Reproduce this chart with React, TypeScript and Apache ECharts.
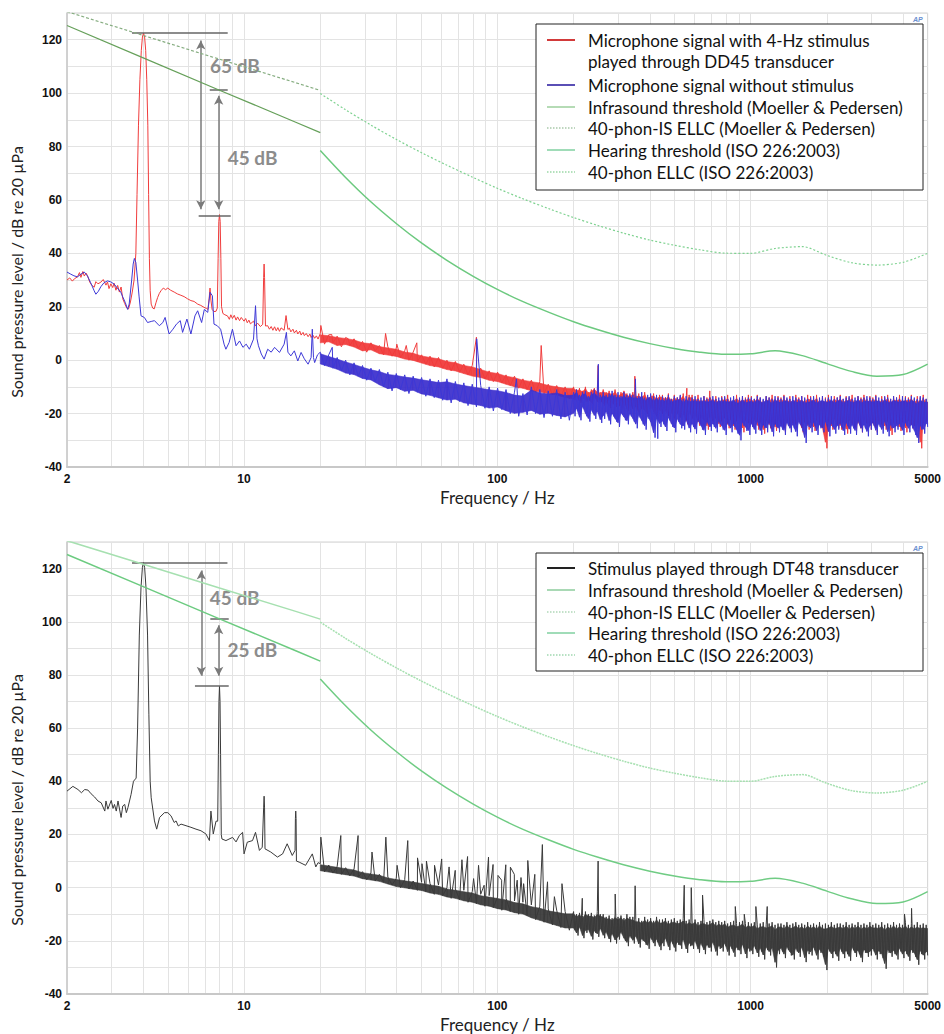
import React, { useEffect, useRef } from "react";
import * as echarts from "echarts";

type Pt = [number, number];

// ---------- axes ----------
const X_MIN = 2;
const X_MAX = 5000;
const Y_MIN = -40;
const Y_MAX = 130;
const gridFreqs = [3, 4, 5, 6, 7, 8, 9, 10, 20, 30, 40, 50, 60, 70, 80, 90, 100, 200, 300, 400, 500, 600, 700, 800, 900, 1000, 2000, 3000, 4000];

// ---------- thresholds ----------
const infraFreqs = [2, 4, 8, 16, 20];
const infraThreshold = [125.3, 113.2, 101.1, 89.1, 85.2];
const infra40phon = [130.5, 121.6, 112.7, 103.9, 101.0];
const isoFreqs = [20, 25, 31.5, 40, 50, 63, 80, 100, 125, 160, 200, 250, 315, 400, 500, 630, 800, 1000, 1250, 1600, 2000, 2500, 3150, 4000, 5000];
const isoHearing = [78.5, 68.7, 59.5, 51.1, 44.0, 37.5, 31.5, 26.5, 22.1, 17.9, 14.4, 11.4, 8.6, 6.2, 4.4, 3.0, 2.2, 2.4, 3.5, 1.7, -1.3, -4.2, -6.0, -5.4, -1.5];
const iso40phon = [99.85, 93.94, 88.17, 82.63, 77.78, 73.08, 68.48, 64.37, 60.59, 56.7, 53.41, 50.4, 47.58, 44.98, 43.05, 41.34, 40.06, 40.01, 41.82, 42.51, 39.23, 36.51, 35.61, 36.65, 40.01];

// ---------- spectra: 2–20 Hz explicit points [Hz, dB] ----------
const redLow: Pt[] = [
  [2, 30], [2.05, 30.8], [2.1, 29.6], [2.14, 30.5], [2.2, 31.2], [2.24, 32.8], [2.27, 31], [2.31, 33.2], [2.34, 31.5], [2.38, 32.6],
  [2.41, 31.6], [2.46, 29.2], [2.5, 28.2], [2.56, 27.3], [2.6, 29.4], [2.65, 28.6], [2.72, 29.2], [2.78, 30.2], [2.85, 28.1], [2.89, 29.3],
  [2.93, 26.8], [2.98, 28.6], [3.03, 27.2], [3.07, 28.8], [3.12, 26.2], [3.17, 28], [3.22, 25.5], [3.27, 27.4], [3.32, 23], [3.38, 21.2],
  [3.44, 19.6], [3.5, 19.2], [3.56, 21.8], [3.62, 25.5], [3.68, 30], [3.74, 40], [3.78, 62], [3.83, 88], [3.88, 105], [3.93, 116],
  [3.97, 121], [4.01, 122.5], [4.05, 121], [4.09, 116], [4.13, 105], [4.17, 88], [4.2, 62], [4.23, 38], [4.26, 26], [4.3, 21],
  [4.36, 19.5], [4.42, 19.2], [4.49, 21.5], [4.56, 23.5], [4.63, 25], [4.7, 26], [4.8, 27], [4.9, 26.4], [5.0, 27], [5.13, 26.2],
  [5.3, 25.5], [5.46, 24.8], [5.63, 24.3], [5.8, 23.8], [5.98, 23], [6.17, 22.3], [6.35, 22], [6.56, 21], [6.75, 20.5], [6.95, 19.8],
  [7.1, 19.4], [7.2, 19], [7.28, 23], [7.34, 27], [7.4, 22.5], [7.48, 19], [7.61, 18.2], [7.75, 18.3], [7.84, 19.5], [7.9, 38],
  [7.95, 52], [8.0, 54.5], [8.05, 52], [8.1, 38], [8.15, 20], [8.25, 17.5], [8.4, 17], [8.6, 16.6], [8.75, 15.3], [8.87, 17],
  [9.0, 15.6], [9.15, 16.8], [9.3, 15], [9.43, 16.2], [9.6, 14.8], [9.75, 16], [10.0, 14.6], [10.15, 15.6], [10.3, 14], [10.45, 15],
  [10.6, 13.6], [10.9, 14.6], [11.1, 12.8], [11.3, 13.9], [11.6, 12.6], [11.85, 13.4], [11.95, 31], [12.0, 36], [12.05, 31], [12.15, 12.8],
  [12.4, 12.9], [12.6, 11.6], [12.8, 12.6], [13.0, 11.2], [13.2, 12.5], [13.4, 11], [13.6, 12.2], [13.8, 10.8], [14.0, 12.1], [14.4, 11.2],
  [14.65, 16.7], [14.9, 11.5], [15.1, 12], [15.3, 10.6], [15.6, 11.6], [15.8, 10.2], [16.1, 11.2], [16.3, 9.8], [16.6, 10.9], [16.8, 9.4],
  [17.1, 10.4], [17.3, 9.2], [17.6, 10], [17.9, 8.8], [18.2, 9.8], [18.4, 8.5], [18.7, 9.4], [19.0, 8.2], [19.3, 9.1], [19.6, 7.9],
];

const blueLow: Pt[] = [
  [2, 33], [2.07, 32.2], [2.13, 31.6], [2.2, 31.2], [2.27, 32.2], [2.34, 33], [2.41, 31.5], [2.48, 29], [2.56, 26], [2.6, 24.7],
  [2.66, 25.8], [2.72, 27.5], [2.8, 29], [2.89, 29.7], [2.98, 29.3], [3.07, 28.5], [3.16, 27], [3.26, 25.5], [3.31, 24], [3.4, 21.5],
  [3.47, 19], [3.52, 21], [3.6, 30], [3.65, 36], [3.69, 38.1], [3.74, 36.6], [3.8, 30], [3.85, 24], [3.92, 16.6], [4.04, 16],
  [4.16, 14.1], [4.3, 14.5], [4.43, 14.8], [4.63, 12.9], [4.78, 14.1], [4.88, 16], [5.06, 9.8], [5.24, 11.6], [5.41, 13.5], [5.6, 14.8],
  [5.72, 10.4], [5.95, 15.4], [6.17, 9.8], [6.4, 16.6], [6.56, 18.5], [6.8, 14.1], [6.97, 19], [7.19, 17.9], [7.34, 25.4], [7.5, 24.1],
  [7.61, 13.5], [7.84, 12.9], [8.08, 11.6], [8.34, 6], [8.48, 4.1], [8.73, 6.6], [9.0, 11.6], [9.3, 5.4], [9.6, 7.2], [9.9, 4.8],
  [10.2, 6], [10.5, 4.1], [10.9, 7.9], [11.1, 20.4], [11.25, 8], [11.4, 5.4], [11.7, 2.3], [12.0, 0.4], [12.4, 4.1], [12.8, 3],
  [13.2, 4.8], [13.8, 2.9], [14.4, 6], [14.7, 10.4], [14.9, 3], [15.3, 1.6], [15.8, 3.5], [16.3, -0.3], [16.8, 2.9], [17.3, 0.5],
  [17.9, -1.5], [18.4, 1], [18.6, 11.6], [18.8, 1], [19.0, -0.9], [19.5, 2],
];

const blackLow: Pt[] = [
  [2, 36.3], [2.11, 38.1], [2.21, 36.9], [2.28, 35.7], [2.35, 36.9], [2.42, 36.7], [2.49, 35.3], [2.57, 34.1], [2.65, 32.6], [2.73, 31.9],
  [2.82, 28.8], [2.85, 32.6], [2.9, 29.5], [2.99, 32.8], [3.04, 29.8], [3.08, 31.3], [3.13, 28.8], [3.18, 32.6], [3.27, 26.4], [3.32, 30.7],
  [3.38, 31.3], [3.43, 28.2], [3.48, 30.1], [3.58, 35], [3.66, 40], [3.75, 41.2], [3.8, 60], [3.86, 95], [3.92, 113], [3.97, 120.5],
  [4.01, 122.3], [4.05, 120.5], [4.1, 113], [4.16, 95], [4.21, 65], [4.26, 40], [4.3, 33.8], [4.43, 25.1], [4.52, 22], [4.64, 26.4],
  [4.85, 28.2], [5.0, 28.2], [5.15, 27], [5.3, 24.5], [5.39, 25.1], [5.5, 23.2], [5.64, 23.9], [5.9, 23.3], [6.17, 22.7], [6.46, 22],
  [6.76, 21.4], [7.07, 20.2], [7.3, 17.7], [7.4, 28.8], [7.56, 20.2], [7.75, 25], [7.87, 25], [7.92, 50], [7.96, 70], [8.0, 75.8],
  [8.04, 70], [8.08, 50], [8.13, 20], [8.18, 18.3], [8.48, 17.7], [9.01, 18.9], [9.3, 17.2], [9.58, 19.6], [9.87, 20.8], [10.0, 12.7],
  [10.3, 17.1], [10.8, 17.7], [11.1, 20.8], [11.5, 14], [11.8, 15.2], [11.95, 30], [12.0, 34.4], [12.05, 30], [12.1, 14.6], [12.75, 13.4],
  [13.55, 11.5], [14.2, 12.7], [14.8, 16.5], [15.5, 12.1], [15.9, 14], [15.95, 26], [16.0, 28.8], [16.05, 26], [16.1, 10], [16.5, 9.6],
  [17.5, 8.4], [18.6, 12.7], [19.2, 7.8], [19.6, 9.4],
];

// ---------- spectra: 20–200 Hz, 60 log-spaced bins ----------
const redMid = [
  10, 6, 9.5, 6.5, 9, 5, 8.5, 5.5, 8, 4.5,
  7, 3, 6.5, 3.5, 5.5, 2, 5, 1.5, 4.5, 1,
  3.5, 0, 3, -0.5, 2, -1.5, 1.5, -2.5, 1, -3,
  0, -4, -0.5, -4.5, -1.5, -5.5, -2, -6.5, -3, -7,
  -4, -8, -4.5, -8.5, -5.5, -9.5, -6, -10.5, -7, -11,
  -7.5, -12, -8, -12.5, -9, -13, -9.5, -13.5, -10, -14.5,
];
const blueMid = [
  3, -2, 2, -3, 1, -4, 0, -5.5, -1, -6,
  -2, -7.5, -3, -8, -3.5, -10, -4.5, -11.5, -5, -11,
  -5.5, -12.5, -6, -12, -6.5, -13.5, -7, -14, -7.5, -15,
  -7, -16, -8, -15.5, -8.5, -17, -9, -17.5, -9.5, -18,
  -10, -19, -10.5, -18.5, -11, -20, -12, -21, -12.5, -20.5,
  -10, -20, -11, -21.5, -11.5, -21, -11, -22, -12, -22.5,
];
const blackMid = [
  9, 6, 8.5, 5.5, 8, 5, 7.5, 4.5, 7, 4,
  6, 3, 5.5, 2.5, 5, 2, 4, 1, 3.5, 0,
  3, -0.5, 2.5, -1, 2, -1.5, 1.5, -2.5, 1, -3,
  0, -4, -0.5, -4.5, -1, -5.5, -1.5, -6, -2.5, -7,
  -3, -7.5, -3.5, -8.5, -4, -9, -5, -10, -5.5, -10.5,
  -6.5, -12, -7, -13, -8, -14, -8.5, -15, -9, -16,
];

// ---------- spectra: 200–5000 Hz, 240 log-spaced bins ----------
const redHigh = [
  -10, -15, -11, -14, -10.5, -16, -11.5, -14.5, -10, -15.5, -12, -15, -11, -16.5, -10.5, -14, -11.5, -16, -12, -15.5,
  -11, -17, -12, -16, -11.5, -18, -12.5, -16.5, -11, -17.5, -13, -17, -12, -18.5, -11.5, -16, -12.5, -19, -13, -17,
  -12, -19, -13, -18, -12.5, -20.5, -13.5, -18.5, -12, -19.5, -14, -21, -13, -18, -12.5, -20, -13.5, -22, -13, -19,
  -13, -21, -14, -19.5, -12.5, -22, -14.5, -20, -13, -23, -14, -20.5, -13.5, -22.5, -12.5, -21, -14.5, -24, -13, -20,
  -13, -23, -14.5, -21, -13, -24.5, -15, -22, -13.5, -23.5, -14, -26, -13, -21.5, -14.5, -24, -13.5, -22.5, -15, -25,
  -13.5, -24, -14, -22.5, -13, -25.5, -15, -23, -14, -26, -13, -24, -14.5, -22, -13.5, -27, -14, -23.5, -13, -25,
  -13.5, -25, -14.5, -23, -13, -26, -14, -24, -15, -27.5, -13.5, -23.5, -14, -25.5, -13, -24, -14.5, -26.5, -13.5, -23,
  -14, -25, -13, -27, -14.5, -23.5, -13.5, -26, -15, -24.5, -13, -25.5, -14, -23, -13.5, -27, -14.5, -24, -13, -26,
  -13.5, -24.5, -14, -26.5, -13, -23.5, -15, -25, -13.5, -27, -14, -33, -13, -24, -14.5, -26, -13.5, -23, -14, -25.5,
  -13, -26, -14.5, -24, -13.5, -27.5, -14, -23.5, -13, -25, -15, -26.5, -13.5, -24, -14, -27, -13, -23.5, -14.5, -25,
  -13.5, -26, -14, -24.5, -13, -27, -15, -23.5, -13.5, -25.5, -14, -26, -13, -24, -14.5, -28, -13.5, -24.5, -14, -25,
  -13, -26.5, -14.5, -24, -13.5, -27, -14, -23.5, -13, -25.5, -14.5, -26, -13.5, -24, -14, -33, -13, -25, -14.5, -24,
];
const blueHigh = [
  -12, -21, -11, -19, -13, -22.5, -12, -18, -11.5, -21, -13.5, -23, -12, -19.5, -11, -22, -12.5, -20, -13, -23.5,
  -12, -22, -13, -20, -12.5, -24, -11.5, -21, -13, -23, -12, -25, -13.5, -20.5, -12, -22.5, -13, -24, -12.5, -21,
  -13, -23, -12.5, -25.5, -13.5, -21.5, -12, -24, -14, -26, -13, -22, -12.5, -24.5, -13.5, -29, -13, -23, -14, -25,
  -13.5, -24, -14, -26.5, -13, -22.5, -14.5, -25, -13.5, -27, -14, -23, -13, -25.5, -14.5, -26, -13.5, -23.5, -14, -27,
  -14, -25, -13.5, -27.5, -14.5, -23.5, -14, -26, -13.5, -28, -14.5, -24, -14, -26.5, -13.5, -25, -14.5, -27, -14, -24,
  -14, -26, -13.5, -28, -14.5, -24.5, -14, -27, -13.5, -25, -14.5, -27.5, -14, -30, -13.5, -24.5, -14.5, -26.5, -14, -28,
  -14, -25, -14.5, -27.5, -13.5, -24, -14, -28, -14.5, -25.5, -13.5, -27, -14, -24.5, -14.5, -28.5, -13.5, -25, -14, -27,
  -14.5, -26, -13.5, -28, -14, -24.5, -14.5, -27, -13.5, -25.5, -14, -28.5, -14.5, -24, -13.5, -26.5, -14, -31, -14.5, -25,
  -14, -27, -13.5, -24.5, -14.5, -28, -14, -25.5, -13.5, -27, -14.5, -24, -14, -28.5, -13.5, -25, -14.5, -27.5, -14, -26,
  -13.5, -25, -14.5, -28, -14, -24.5, -13.5, -27.5, -14.5, -25.5, -14, -28, -13.5, -24, -14.5, -27, -14, -25.5, -13.5, -28.5,
  -14, -26, -14.5, -24.5, -13.5, -28, -14, -25, -14.5, -27.5, -13.5, -24, -14, -28.5, -14.5, -25.5, -13.5, -27, -14, -26,
  -14.5, -25, -13.5, -28, -14, -24.5, -14.5, -27, -13.5, -25.5, -14, -28, -14.5, -31, -13.5, -26, -14, -27.5, -14.5, -25,
];
const blackHigh = [
  -9, -16, -10, -18, -9.5, -15.5, -10.5, -19, -9, -17, -10, -16.5, -9.5, -19.5, -10.5, -17, -9, -18.5, -10, -16,
  -10, -19, -11, -17.5, -10.5, -20.5, -11.5, -18, -10, -21, -11, -19.5, -10.5, -17.5, -11.5, -20, -10, -22, -11, -19,
  -11, -21, -12, -19, -11.5, -22.5, -12.5, -20, -11, -21.5, -12, -23, -11.5, -19.5, -12.5, -22, -11, -20.5, -12, -23.5,
  -12, -22, -11.5, -20, -12.5, -23.5, -12, -21, -11.5, -24, -12.5, -21.5, -12, -23, -11.5, -20.5, -12.5, -24.5, -12, -22,
  -12.5, -23, -12, -21, -13, -24.5, -12.5, -22, -12, -25, -13, -22.5, -12.5, -24, -12, -21.5, -13, -25.5, -12.5, -23,
  -13, -24, -12.5, -22, -13.5, -25.5, -13, -23, -12.5, -26, -13.5, -23.5, -13, -25, -12.5, -22.5, -13.5, -26.5, -13, -24,
  -13.5, -25, -13, -23, -14, -26, -13.5, -24, -13, -27, -14, -23.5, -13.5, -25.5, -13, -24, -14, -30, -13.5, -25,
  -13.5, -24, -14, -26.5, -13, -23.5, -14, -25.5, -13.5, -27, -13, -24, -14, -26, -13.5, -23.5, -14, -28, -13, -25,
  -14, -25.5, -13.5, -23.5, -14, -27, -13, -24.5, -14, -26, -13.5, -31, -14, -24, -13, -26.5, -14, -25, -13.5, -27.5,
  -13.5, -24, -14, -26.5, -13, -25, -14, -27.5, -13.5, -23.5, -14, -26, -13, -25, -14, -28, -13.5, -24.5, -14, -26,
  -13, -25.5, -14, -24, -13.5, -27, -14, -25, -13, -26.5, -14, -30.5, -13.5, -24.5, -14, -26, -13, -25, -14, -27,
  -13.5, -24, -14, -26.5, -13, -25, -14, -27.5, -13.5, -24.5, -14, -26, -13, -29, -14, -25, -13.5, -27, -14, -25.5,
];

// ---------- narrow spectral lines above 20 Hz [Hz, dB] ----------
const redSpikes: Pt[] = [
  [20.1, 13], [22.2, 9.6], [25.8, 8], [36.2, 10], [40.1, 6], [43.7, 5.5], [48.1, 6.5], [82.7, 8.6], [149, 5.5], [250, -2], [349, -6], [560, -10.5], [690, -11.5],
];
const blueSpikes: Pt[] = [
  [22.3, 4.8], [82.9, 8], [119, -7], [250.5, -1.5], [351, -7], [430, -29.4],
];
const blackSpikes: Pt[] = [
  [20.1, 19], [24.1, 19.6], [28.2, 19.6], [32, 13.4], [36.3, 19], [40.2, 8.4], [44.3, 17.7], [48.4, 11.2], [50.4, 9], [52.5, 10],
  [56.5, 8.4], [60.3, 10.8], [64.5, 7.8], [68.2, 6.5], [72.5, 10.5], [76.3, 11.7], [80.6, 3.4], [84.3, 8.4], [88.7, 0.9], [92.3, 11.5],
  [96.2, 8.7], [100.6, 4.6], [104, 2.8], [108, 8.6], [112.6, 7.7], [116.7, 5], [119.8, 2.8], [124, 3.8], [127, 1.5], [131.9, 10.2],
  [140.6, 5], [150.6, 16.2], [157.8, 2.2], [168, -3.4], [180, 1.5], [216.5, -4], [250, 10], [292, -2.4], [350, 0.7], [547, 0.9],
  [583, 0], [646, -2.8], [870, -7.1], [944, -10], [1049, -7.1], [1163, -7.1], [4050, -9.9], [4320, -7.8],
];

// ---------- annotations [Hz from, Hz to, dB] / [Hz, dB from, dB to] / [Hz, dB, text] ----------
const topBars: [number, number, number][] = [[3.61, 8.62, 122.6], [7.32, 8.62, 101.2], [6.62, 8.86, 54.2]];
const topArrows: [number, number, number][] = [[6.75, 119.7, 56.5], [7.94, 99, 56.5]];
const topLabels: [number, number, string][] = [[7.34, 110.2, "65 dB"], [8.62, 76, "45 dB"]];
const botBars: [number, number, number][] = [[3.61, 8.6, 122.2], [7.36, 8.7, 101], [6.4, 8.7, 76.1]];
const botArrows: [number, number, number][] = [[6.78, 119.3, 79.7], [7.94, 98.7, 79.7]];
const botLabels: [number, number, string][] = [[7.32, 109.2, "45 dB"], [8.6, 89.4, "25 dB"]];

// ---------- helpers ----------
const midFreq = (i: number) => 20 * Math.pow(10, i / redMid.length);
const highFreq = (j: number) => 200 * Math.pow(25, j / (redHigh.length - 1));
const BAND_CORE = 0.12; // fraction trimmed from each edge of the filled core, so the raw trace forms the fuzzy fringe

function buildSpectrum(low: Pt[], mid: number[], high: number[], spikes: Pt[]): Pt[] {
  const pts: Pt[] = low.slice();
  mid.forEach((v, i) => pts.push([midFreq(i), v]));
  high.forEach((v, j) => pts.push([highFreq(j), v]));
  spikes.forEach((s) => pts.push(s));
  pts.sort((a, b) => a[0] - b[0]);
  return pts;
}
// dense-noise band: for each consecutive pair of bins take its min/max; items join neighbouring pairs
function buildBand(mid: number[], high: number[]): number[][] {
  const env: { f: number; lo: number; hi: number }[] = [];
  const push = (f: number, a: number, b: number) => {
    const lo = Math.min(a, b);
    const hi = Math.max(a, b);
    const t = (hi - lo) * BAND_CORE;
    env.push({ f, lo: lo + t, hi: hi - t });
  };
  for (let k = 0; k + 1 < mid.length; k += 2) push(midFreq(k), mid[k], mid[k + 1]);
  for (let k = 0; k + 1 < high.length; k += 2) push(highFreq(k), high[k], high[k + 1]);
  const last = high.length - 1;
  push(highFreq(last), high[last], high[last - 1]);
  const items: number[][] = [];
  for (let k = 0; k + 1 < env.length; k++) {
    const a = env[k];
    const b = env[k + 1];
    items.push([a.f, a.lo, a.hi, b.f, b.lo, b.hi]);
  }
  return items;
}
const zip = (xs: number[], ys: number[]): Pt[] => xs.map((x, i) => [x, ys[i]]);

const FONT = "Lato, 'Open Sans', sans-serif";

function xAxis(gridIndex: number) {
  return {
    type: "log",
    logBase: 10,
    gridIndex,
    min: X_MIN,
    max: X_MAX,
    name: "Frequency / Hz",
    nameLocation: "middle",
    nameGap: 22,
    nameTextStyle: { fontFamily: FONT, fontSize: 17, color: "#222" },
    axisLine: { show: true, onZero: false, lineStyle: { color: "#c8c8c8", width: 2 } },
    axisTick: { show: false },
    splitLine: { show: false },
    axisLabel: {
      margin: 6,
      color: "#111",
      fontWeight: "bold",
      fontSize: 12,
      fontFamily: "'Liberation Sans', Arial, sans-serif",
      formatter: (v: number) => String(Math.round(v)),
    },
  };
}
function yAxis(gridIndex: number) {
  return {
    type: "value",
    gridIndex,
    min: Y_MIN,
    max: Y_MAX,
    interval: 10,
    name: "Sound pressure level / dB re 20 µPa",
    nameLocation: "middle",
    nameGap: 43,
    nameTextStyle: { fontFamily: FONT, fontSize: 16, color: "#222", padding: [0, 64, 0, 0] },
    axisLine: { show: true, onZero: false, lineStyle: { color: "#c8c8c8", width: 1.5 } },
    axisTick: { show: false },
    splitLine: { show: true, lineStyle: { color: "#e3e3e3", width: 1 } },
    axisLabel: {
      margin: 5,
      color: "#111",
      fontWeight: "bold",
      fontSize: 12,
      fontFamily: "'Liberation Sans', Arial, sans-serif",
      formatter: (v: number) => (v % 20 === 0 && v <= 120 ? String(v) : ""),
    },
  };
}

function gridLineSeries(idx: number) {
  return {
    type: "line",
    name: "grid" + idx,
    xAxisIndex: idx,
    yAxisIndex: idx,
    data: [],
    silent: true,
    z: 0,
    markLine: {
      z: 0,
      silent: true,
      symbol: "none",
      label: { show: false },
      lineStyle: { color: "#e3e3e3", width: 1, type: "solid" },
      data: gridFreqs.map((f) => ({ xAxis: f })),
    },
  };
}

function lineSeries(idx: number, name: string, data: Pt[], color: string, width: number, type: any = "solid", z = 3, smooth: any = false) {
  return {
    type: "line",
    name,
    xAxisIndex: idx,
    yAxisIndex: idx,
    data,
    showSymbol: false,
    symbol: "none",
    smooth,
    z,
    lineStyle: { color, width, type },
    silent: true,
  };
}

function bandSeries(idx: number, name: string, items: number[][], color: string, opacity: number, z: number) {
  return {
    type: "custom",
    name,
    xAxisIndex: idx,
    yAxisIndex: idx,
    silent: true,
    clip: true,
    z,
    data: items,
    encode: { x: [0, 3], y: [1, 2, 4, 5] },
    renderItem: (_params: any, api: any) => {
      const a = api.coord([api.value(0), api.value(1)]);
      const b = api.coord([api.value(0), api.value(2)]);
      const c = api.coord([api.value(3), api.value(5)]);
      const d = api.coord([api.value(3), api.value(4)]);
      return {
        type: "polygon",
        shape: { points: [a, b, c, d] },
        style: { fill: color, stroke: color, lineWidth: 0.6, opacity },
      };
    },
  };
}

function annotationSeries(idx: number, bars: [number, number, number][], arrows: [number, number, number][], labels: [number, number, string][]) {
  return {
    type: "line",
    name: "annot" + idx,
    xAxisIndex: idx,
    yAxisIndex: idx,
    data: [],
    z: 10,
    silent: true,
    markLine: {
      silent: true,
      symbolSize: [7, 9],
      label: { show: false },
      data: [
        ...bars.map((b) => [
          { coord: [b[0], b[2]], symbol: "none", lineStyle: { color: "#666", width: 1.5, type: "solid" } },
          { coord: [b[1], b[2]], symbol: "none" },
        ]),
        ...arrows.map((a) => [
          { coord: [a[0], a[1]], symbol: "arrow", lineStyle: { color: "#7a7a7a", width: 1.5, type: "solid" } },
          { coord: [a[0], a[2]], symbol: "arrow" },
        ]),
      ],
    },
    markPoint: {
      silent: true,
      symbol: "circle",
      symbolSize: 0,
      data: labels.map((l) => ({
        coord: [l[0], l[1]],
        name: l[2],
        label: {
          show: true,
          position: [0, 0],
          align: "left",
          verticalAlign: "middle",
          formatter: l[2],
          color: "#8c8c8c",
          fontWeight: "bold",
          fontSize: 19,
          fontFamily: FONT,
        },
      })),
    },
  };
}

function legendGraphics(x: number, y: number, w: number, h: number, items: { y: number; color: string; dash: boolean; lines: string[]; width?: number }[]) {
  const els: any[] = [
    { type: "rect", z: 100, shape: { x, y, width: w, height: h }, style: { fill: "#fff", stroke: "#222", lineWidth: 1 } },
  ];
  items.forEach((it) => {
    els.push({
      type: "line",
      z: 101,
      shape: { x1: x + 11, y1: it.y, x2: x + 39, y2: it.y },
      style: { stroke: it.color, lineWidth: it.width ?? 1.5, lineDash: it.dash ? [1.5, 1.5] : null },
    });
    it.lines.forEach((t, k) => {
      els.push({
        type: "text",
        z: 101,
        x: x + 52,
        y: it.y + k * 21,
        style: { text: t, fill: "#111", fontSize: 17, fontFamily: FONT, verticalAlign: "middle", align: "left" },
      });
    });
  });
  return els;
}

const apLogo = (x: number, y: number) => ({
  type: "text",
  z: 100,
  x,
  y,
  style: { text: "AP", fill: "#6b8fd0", fontSize: 7, fontWeight: "bold", fontStyle: "italic", fontFamily: "Arial, sans-serif" },
});

export default function App() {
  const ref = useRef<HTMLDivElement>(null);
  useEffect(() => {
    if (!ref.current) return;
    const chart = echarts.init(ref.current, null, { renderer: "svg" });

    const red = buildSpectrum(redLow, redMid, redHigh, redSpikes);
    const blue = buildSpectrum(blueLow, blueMid, blueHigh, blueSpikes);
    const black = buildSpectrum(blackLow, blackMid, blackHigh, blackSpikes);

    const option: any = {
      animation: false,
      backgroundColor: "#fff",
      grid: [
        { left: 66, top: 13, width: 863, height: 454, show: true, borderColor: "#d2d2d2", borderWidth: 1, backgroundColor: "transparent" },
        { left: 64, top: 542, width: 864, height: 455, show: true, borderColor: "#d2d2d2", borderWidth: 1, backgroundColor: "transparent" },
      ],
      xAxis: [xAxis(0), xAxis(1)],
      yAxis: [yAxis(0), yAxis(1)],
      series: [
        gridLineSeries(0),
        gridLineSeries(1),
        // top panel
        bandSeries(0, "redBand", buildBand(redMid, redHigh), "#f03c3c", 0.95, 3),
        lineSeries(0, "Microphone signal with 4-Hz stimulus played through DD45 transducer", red, "#f03c3c", 1, "solid", 3),
        bandSeries(0, "blueBand", buildBand(blueMid, blueHigh), "#3a2ccc", 0.92, 4),
        lineSeries(0, "Microphone signal without stimulus", blue, "#3d38d6", 1, "solid", 4),
        lineSeries(0, "Infrasound threshold (Moeller & Pedersen)", zip(infraFreqs, infraThreshold), "#66a05a", 1.2, "solid", 5),
        lineSeries(0, "40-phon-IS ELLC (Moeller & Pedersen)", zip(infraFreqs, infra40phon), "#86ad80", 1.2, [3, 2], 5),
        lineSeries(0, "Hearing threshold (ISO 226:2003)", zip(isoFreqs, isoHearing), "#6cc97f", 1.5, "solid", 5, 0.3),
        lineSeries(0, "40-phon ELLC (ISO 226:2003)", zip(isoFreqs, iso40phon), "#7fd291", 1.2, [2, 2], 5, 0.3),
        annotationSeries(0, topBars, topArrows, topLabels),
        // bottom panel
        bandSeries(1, "blackBand", buildBand(blackMid, blackHigh), "#363636", 0.92, 3),
        lineSeries(1, "Stimulus played through DT48 transducer", black, "#3a3a3a", 1, "solid", 3),
        lineSeries(1, "Infrasound threshold (Moeller & Pedersen) ", zip(infraFreqs, infraThreshold), "#6ccb80", 1.5, "solid", 5),
        lineSeries(1, "40-phon-IS ELLC (Moeller & Pedersen) ", zip(infraFreqs, infra40phon), "#a6e0b0", 1.5, "solid", 5),
        lineSeries(1, "Hearing threshold (ISO 226:2003) ", zip(isoFreqs, isoHearing), "#70cc84", 1.5, "solid", 5, 0.3),
        lineSeries(1, "40-phon ELLC (ISO 226:2003) ", zip(isoFreqs, iso40phon), "#a6e0b0", 1.5, [2, 1], 5, 0.3),
        annotationSeries(1, botBars, botArrows, botLabels),
      ],
      graphic: [
        ...legendGraphics(536, 24, 387, 166, [
          { y: 40, color: "#d23a3a", dash: false, lines: ["Microphone signal with 4-Hz stimulus", "played through DD45 transducer"], width: 2 },
          { y: 85, color: "#5a4fb5", dash: false, lines: ["Microphone signal without stimulus"], width: 2 },
          { y: 107, color: "#9ccf9c", dash: false, lines: ["Infrasound threshold (Moeller & Pedersen)"] },
          { y: 128, color: "#a9c9ab", dash: true, lines: ["40-phon-IS ELLC (Moeller & Pedersen)"] },
          { y: 150, color: "#80d0a0", dash: false, lines: ["Hearing threshold (ISO 226:2003)"] },
          { y: 172, color: "#9ad8a6", dash: true, lines: ["40-phon ELLC (ISO 226:2003)"] },
        ]),
        ...legendGraphics(536, 553, 387, 118, [
          { y: 568, color: "#222", dash: false, lines: ["Stimulus played through DT48 transducer"], width: 2 },
          { y: 590, color: "#8ccc9c", dash: false, lines: ["Infrasound threshold (Moeller & Pedersen)"] },
          { y: 612, color: "#b0d8b8", dash: true, lines: ["40-phon-IS ELLC (Moeller & Pedersen)"] },
          { y: 633, color: "#80d0a0", dash: false, lines: ["Hearing threshold (ISO 226:2003)"] },
          { y: 655, color: "#a0d8b0", dash: true, lines: ["40-phon ELLC (ISO 226:2003)"] },
        ]),
        apLogo(913, 16),
        apLogo(913, 545),
      ],
    };
    chart.setOption(option);
    return () => chart.dispose();
  }, []);
  return <div ref={ref} style={{ position: "absolute", left: 0, top: 0, width: 944, height: 1034, background: "#fff" }} />;
}
